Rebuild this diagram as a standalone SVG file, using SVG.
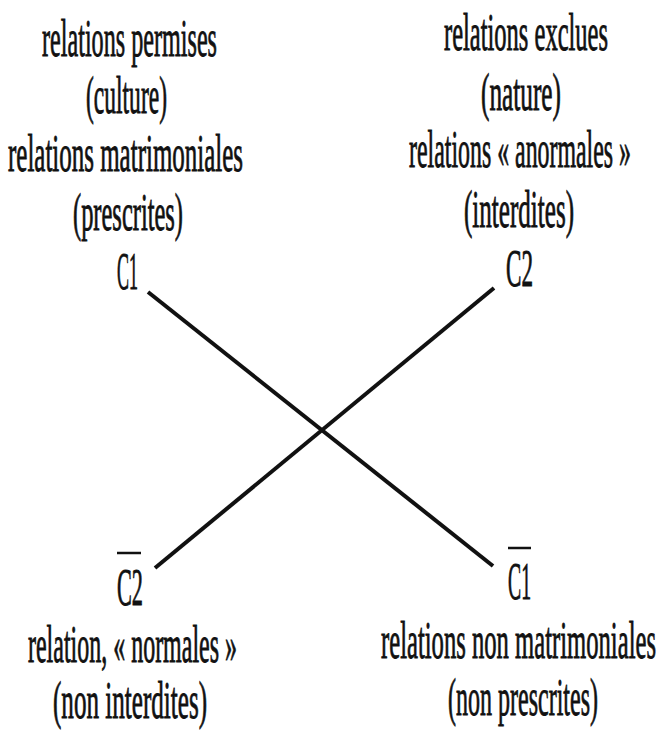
<svg xmlns="http://www.w3.org/2000/svg" width="662" height="733" viewBox="0 0 662 733">
<style>
text { font-family: "Liberation Serif", "Times New Roman", serif; font-size: 52px; fill: #111; stroke: #111; stroke-width: 0.9px; }
.bar { stroke: #111; stroke-width: 2.5; }
.edge { stroke: #111; stroke-width: 4; fill: none; stroke-linecap: butt; }
</style>
<rect width="662" height="733" fill="#fff"/>
<g id="connectors">
<line class="edge" x1="148" y1="292" x2="493" y2="566"/>
<line class="edge" x1="494" y1="288" x2="155" y2="568"/>
</g>
<g id="C1">
<text x="42" y="56" textLength="175" lengthAdjust="spacingAndGlyphs">relations permises</text>
<text x="86" y="113" textLength="81" lengthAdjust="spacingAndGlyphs">(culture)</text>
<text x="8" y="171" textLength="235" lengthAdjust="spacingAndGlyphs">relations matrimoniales</text>
<text x="73" y="230" textLength="110" lengthAdjust="spacingAndGlyphs">(prescrites)</text>
<text x="117" y="289" textLength="21" lengthAdjust="spacingAndGlyphs">C1</text>
</g>
<g id="C2">
<text x="444" y="50" textLength="164" lengthAdjust="spacingAndGlyphs">relations exclues</text>
<text x="481" y="110" textLength="80" lengthAdjust="spacingAndGlyphs">(nature)</text>
<text x="409" y="167" textLength="222" lengthAdjust="spacingAndGlyphs">relations « anormales »</text>
<text x="464" y="227" textLength="110" lengthAdjust="spacingAndGlyphs">(interdites)</text>
<text x="506" y="286" textLength="27" lengthAdjust="spacingAndGlyphs">C2</text>
</g>
<g id="C2bar">
<line class="bar" x1="117" y1="553" x2="141" y2="553"/>
<text x="117" y="605" textLength="26" lengthAdjust="spacingAndGlyphs">C2</text>
<text x="28" y="662" textLength="209" lengthAdjust="spacingAndGlyphs">relation, « normales »</text>
<text x="53" y="718" textLength="154" lengthAdjust="spacingAndGlyphs">(non interdites)</text>
</g>
<g id="C1bar">
<line class="bar" x1="508" y1="548" x2="531" y2="548"/>
<text x="508" y="599" textLength="23" lengthAdjust="spacingAndGlyphs">C1</text>
<text x="381" y="658" textLength="275" lengthAdjust="spacingAndGlyphs">relations non matrimoniales</text>
<text x="448" y="715" textLength="150" lengthAdjust="spacingAndGlyphs">(non prescrites)</text>
</g>
</svg>
